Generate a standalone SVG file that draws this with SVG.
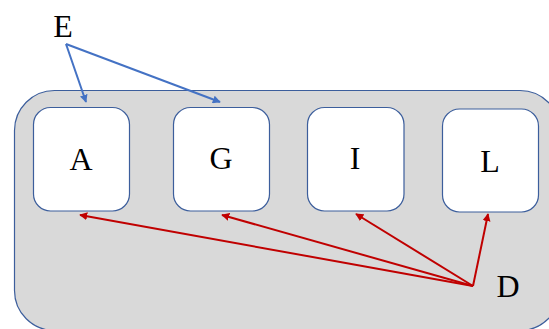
<svg xmlns="http://www.w3.org/2000/svg" width="549" height="329" viewBox="0 0 549 329">
<defs>
<style>
.box{fill:#fff;stroke:#3C5E9C;stroke-width:1.2}
.lbl{font-family:"Liberation Serif","Times New Roman",serif;font-size:32px;fill:#000;text-anchor:middle}
.blue{stroke:#4472C4;stroke-width:2;fill:none;marker-end:url(#ab)}
.red{stroke:#C00000;stroke-width:2;fill:none;marker-end:url(#ar)}
</style>
<marker id="ab" viewBox="0 0 10 10" refX="9" refY="5" markerWidth="4" markerHeight="4" orient="auto" markerUnits="strokeWidth"><path d="M0,0L10,5L0,10z" fill="#4472C4"/></marker>
<marker id="ar" viewBox="0 0 10 10" refX="9" refY="5" markerWidth="4" markerHeight="4" orient="auto" markerUnits="strokeWidth"><path d="M0,0L10,5L0,10z" fill="#C00000"/></marker>
</defs>
<rect width="549" height="329" fill="#fff"/>
<g id="container"><rect x="14.5" y="90.5" width="545.5" height="240" rx="40" fill="#D9D9D9" stroke="#3C5E9C" stroke-width="1.2"/></g>
<g id="A"><rect class="box" x="33.5" y="107.5" width="96" height="103.5" rx="17"/><text class="lbl" x="81" y="170">A</text></g>
<g id="G"><rect class="box" x="173.5" y="107.5" width="96" height="103.5" rx="17"/><text class="lbl" x="221" y="169">G</text></g>
<g id="I"><rect class="box" x="307.5" y="107.5" width="96.5" height="103.5" rx="17"/><text class="lbl" x="355" y="169">I</text></g>
<g id="L"><rect class="box" x="442.5" y="109" width="96" height="103" rx="17"/><text class="lbl" x="490" y="172">L</text></g>
<g id="E"><text class="lbl" x="63" y="37">E</text></g>
<g id="D"><text class="lbl" x="508" y="297">D</text></g>
<g id="connectors">
<line class="blue" x1="66" y1="44" x2="86" y2="102"/>
<line class="blue" x1="66" y1="44" x2="220" y2="102"/>
<line class="red" x1="473" y1="286" x2="80" y2="215"/>
<line class="red" x1="473" y1="286" x2="222" y2="215"/>
<line class="red" x1="473" y1="286" x2="356" y2="214"/>
<line class="red" x1="473" y1="286" x2="488" y2="214"/>
</g>
</svg>
